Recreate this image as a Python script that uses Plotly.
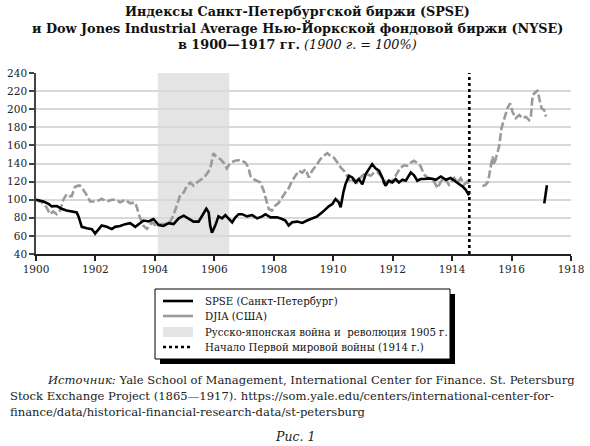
import plotly.graph_objects as go

# ---------------- data ----------------
spse_years = [1900.00, 1900.25, 1900.42, 1900.53, 1900.70, 1900.86, 1901.03, 1901.20, 1901.37, 1901.43,
              1901.54, 1901.71, 1901.88, 1901.99, 1902.10, 1902.21, 1902.38, 1902.55, 1902.66, 1902.83,
              1903.00, 1903.17, 1903.34, 1903.51, 1903.62, 1903.79, 1903.95, 1904.05, 1904.12, 1904.29,
              1904.46, 1904.63, 1904.80, 1904.97, 1905.13, 1905.30, 1905.47, 1905.58, 1905.73, 1905.81,
              1905.86, 1905.92, 1906.03, 1906.14, 1906.26, 1906.37, 1906.48, 1906.60, 1906.71, 1906.82,
              1906.93, 1907.10, 1907.27, 1907.44, 1907.61, 1907.72, 1907.89, 1908.11, 1908.28, 1908.39,
              1908.50, 1908.62, 1908.79, 1908.96, 1909.12, 1909.29, 1909.46, 1909.63, 1909.74, 1909.85,
              1909.97, 1910.08, 1910.19, 1910.25, 1910.34, 1910.41, 1910.53, 1910.64, 1910.75, 1910.86,
              1910.98, 1911.09, 1911.20, 1911.31, 1911.43, 1911.54, 1911.65, 1911.76, 1911.87, 1911.99,
              1912.10, 1912.21, 1912.33, 1912.44, 1912.61, 1912.72, 1912.83, 1912.94, 1913.05, 1913.22,
              1913.34, 1913.45, 1913.62, 1913.79, 1913.95, 1914.12, 1914.23, 1914.35, 1914.46, 1914.52,
              1914.57, None, 1917.10, 1917.19]
spse_values = [100, 98, 95.5, 92.6, 93, 90, 88, 87, 86, 81.5,
               70, 68.5, 67.5, 62.5, 67, 71.5, 70, 67.5, 70, 71,
               73, 74, 70, 74, 77, 76, 78.5, 75, 72, 71,
               74, 73, 79.4, 82.4, 79.4, 75.8, 75.8, 81.6, 90, 86,
               71.4, 63.5, 71.4, 81.6, 79.4, 83, 79.4, 75, 80.5, 84,
               84, 81.6, 83, 79.4, 81.6, 84, 80.5, 80.5, 78.7, 77,
               71.4, 75, 75.8, 74.3, 77, 79.4, 81.6, 86, 89.7, 92.6,
               95.2, 100.7, 97, 91.5, 108, 117, 126.4, 124.6, 119, 122.8,
               117, 128, 133.8, 139.3, 134.5, 132, 124.6, 115.4, 121, 119,
               122.8, 119, 122, 121, 130, 127, 121, 122.8, 122.8, 123.5,
               123, 122, 125.7, 122, 124, 120, 116.5, 114.7, 111, 107.3,
               104.8, None, 96, 116]

djia_years = [1900.00, 1900.19, 1900.35, 1900.47, 1900.58, 1900.70, 1900.81, 1900.92, 1901.03, 1901.12,
              1901.20, 1901.31, 1901.42, 1901.48, 1901.59, 1901.73, 1901.82, 1901.99, 1902.10, 1902.21,
              1902.38, 1902.55, 1902.72, 1902.83, 1903.00, 1903.17, 1903.34, 1903.39, 1903.50, 1903.62,
              1903.73, 1903.90, 1904.01, 1904.12, 1904.29, 1904.46, 1904.57, 1904.68, 1904.86, 1904.97,
              1905.08, 1905.19, 1905.30, 1905.41, 1905.58, 1905.70, 1905.86, 1905.97, 1906.08, 1906.20,
              1906.31, 1906.42, 1906.54, 1906.70, 1906.87, 1907.04, 1907.15, 1907.21, 1907.32, 1907.44,
              1907.55, 1907.66, 1907.75, 1907.83, 1907.94, 1908.05, 1908.16, 1908.28, 1908.39, 1908.50,
              1908.62, 1908.73, 1908.84, 1908.96, 1909.07, 1909.18, 1909.29, 1909.46, 1909.57, 1909.68,
              1909.80, 1909.91, 1910.02, 1910.14, 1910.25, 1910.36, 1910.47, 1910.58, 1910.70, 1910.81,
              1910.92, 1911.03, 1911.14, 1911.26, 1911.37, 1911.48, 1911.60, 1911.71, 1911.82, 1911.93,
              1912.04, 1912.16, 1912.27, 1912.38, 1912.49, 1912.61, 1912.72, 1912.83, 1912.94, 1913.05,
              1913.17, 1913.28, 1913.39, 1913.51, 1913.62, 1913.73, 1913.90, 1914.07, 1914.18, 1914.29,
              1914.40, 1914.51, 1914.57, None,
              1915.02, 1915.13, 1915.21, 1915.28, 1915.36, 1915.41, 1915.47, 1915.58, 1915.66, 1915.75,
              1915.86, 1915.95, 1916.03, 1916.14, 1916.26, 1916.37, 1916.48, 1916.59, 1916.65, 1916.71,
              1916.82, 1916.88, 1916.93, 1917.01, 1917.10, 1917.16]
djia_values = [100, 97, 92, 84, 87, 84, 88, 100, 106, 104,
               104, 114, 115.5, 115.5, 111, 104, 98, 98, 99, 101,
               98, 100, 100, 97, 100, 96, 97, 91, 80, 71,
               67.7, 75, 72, 73, 73, 73, 79, 88, 106, 108,
               115.4, 119, 115.4, 119, 122.8, 126.4, 133.8, 151.4, 146.6, 144.8,
               141, 134.5, 141, 143, 144, 141, 135.6, 126.4, 122.8, 121,
               119, 110, 99, 89.7, 88, 93.4, 96.3, 102.6, 108, 112.5,
               121, 126.4, 132, 130, 133.8, 124.6, 132, 139.3, 144.8, 148.4,
               151.4, 148.4, 146.6, 141, 135.6, 132, 126.4, 119, 122.8, 119,
               124.6, 128, 128, 126.4, 130, 130.8, 126.4, 117.2, 122.8, 119,
               122.8, 130, 135.6, 138, 137.3, 141, 143, 140.4, 137.3, 128,
               124.6, 122.8, 120, 112.8, 120, 124, 116.5, 124, 119.4, 123.9,
               116.5, 120, 116, None,
               114.7, 116.5, 120, 133, 147.7, 138.5, 145.9, 158.7, 178.9, 190,
               201, 206.4, 197.2, 190, 193.6, 190, 191.7, 188, 191.7, 215.6,
               219.3, 221, 212, 201, 199, 191.7]

war_period = [1904.1, 1906.5]     # Russo-Japanese war & revolution 1905
ww1_start = 1914.58               # start of WWI

series_names = ["SPSE (Санкт-Петербург)", "DJIA (США)",
                "Русско-японская война и  революция 1905 г.",
                "Начало Первой мировой войны (1914 г.)"]
x_ticks = [1900, 1902, 1904, 1906, 1908, 1910, 1912, 1914, 1916, 1918]
y_ticks = [40, 60, 80, 100, 120, 140, 160, 180, 200, 220, 240]

# ---------------- layout geometry ----------------
W, H = 590, 446
L, R, T, B = 36, 571, 73, 254
SERIF = "DejaVu Serif"


def px(x):
    return (x - L) / (R - L)


def py(y):
    return (B - y) / (B - T)


fig = go.Figure()
fig.add_trace(go.Scatter(x=djia_years, y=djia_values, mode="lines", name=series_names[1],
                         line=dict(color="#9a9a9a", width=2.6, dash="8px,3px"),
                         connectgaps=False, showlegend=False))
fig.add_trace(go.Scatter(x=spse_years, y=spse_values, mode="lines", name=series_names[0],
                         line=dict(color="#000000", width=2.6),
                         connectgaps=False, showlegend=False))

shapes = [
    dict(type="rect", xref="x", yref="paper", x0=war_period[0], x1=war_period[1], y0=0, y1=1,
         fillcolor="#e4e4e4", line=dict(width=0), layer="between"),
    dict(type="line", xref="x", yref="paper", x0=ww1_start, x1=ww1_start, y0=0, y1=1,
         line=dict(color="#000000", width=2.6, dash="dot"), layer="above"),
]

# legend box with shadow
lx0, lx1, ly0, ly1 = 155, 450, 289, 359
shapes.append(dict(type="rect", xref="paper", yref="paper", x0=px(lx0 + 5), x1=px(lx1 + 5),
                   y0=py(ly1 + 5), y1=py(ly0 + 5), fillcolor="#000000", line=dict(width=0)))
shapes.append(dict(type="rect", xref="paper", yref="paper", x0=px(lx0), x1=px(lx1),
                   y0=py(ly1), y1=py(ly0), fillcolor="#ffffff", line=dict(color="#000000", width=1)))
rows = [301, 316, 332, 347]
shapes.append(dict(type="line", xref="paper", yref="paper", x0=px(163), x1=px(193),
                   y0=py(rows[0]), y1=py(rows[0]), line=dict(color="#000000", width=2.6)))
shapes.append(dict(type="line", xref="paper", yref="paper", x0=px(163), x1=px(193),
                   y0=py(rows[1]), y1=py(rows[1]), line=dict(color="#9a9a9a", width=2.6)))
shapes.append(dict(type="rect", xref="paper", yref="paper", x0=px(163), x1=px(193),
                   y0=py(rows[2] + 5), y1=py(rows[2] - 5), fillcolor="#e4e4e4", line=dict(width=0)))
shapes.append(dict(type="line", xref="paper", yref="paper", x0=px(163), x1=px(193),
                   y0=py(rows[3]), y1=py(rows[3]), line=dict(color="#000000", width=2.6, dash="dot")))

annotations = []
for r, name in zip(rows, series_names):
    annotations.append(dict(xref="paper", yref="paper", x=px(203), y=py(r), xanchor="left",
                            yanchor="middle", text=name, showarrow=False,
                            font=dict(family=SERIF, size=10.2, color="#111")))

# title
title_lines = ["<b>Индексы Санкт-Петербургской биржи (SPSE)</b>",
               "<b>и Dow Jones Industrial Average Нью-Йоркской фондовой биржи (NYSE)</b>",
               "<b>в 1900—1917 гг.</b> <i>(1900 г. = 100%)</i>"]
for yy, t in zip([11, 28, 45], title_lines):
    annotations.append(dict(xref="paper", yref="paper", x=px(297), y=py(yy), xanchor="center",
                            yanchor="middle", text=t, showarrow=False,
                            font=dict(family=SERIF, size=12.8, color="#111")))

# source
src = [(45, 380, "<i>Источник:</i> Yale School of Management, International Center for Finance. St. Petersburg"),
       (8, 396, "Stock Exchange Project (1865—1917). https://som.yale.edu/centers/international-center-for-"),
       (8, 412, "finance/data/historical-financial-research-data/st-petersburg")]
for xx, yy, t in src:
    annotations.append(dict(xref="paper", yref="paper", x=px(xx), y=py(yy), xanchor="left",
                            yanchor="middle", text=t, showarrow=False,
                            font=dict(family=SERIF, size=11.6, color="#222")))
annotations.append(dict(xref="paper", yref="paper", x=px(295), y=py(437), xanchor="center",
                        yanchor="middle", text="<i>Рис. 1</i>", showarrow=False,
                        font=dict(family=SERIF, size=12.5, color="#222")))

fig.update_layout(
    width=W, height=H,
    margin=dict(l=L, r=W - R, t=T, b=H - B, pad=0),
    paper_bgcolor="#ffffff", plot_bgcolor="#ffffff",
    showlegend=False,
    shapes=shapes, annotations=annotations,
    xaxis=dict(range=[1900, 1918], tickmode="array", tickvals=x_ticks, automargin=False,
               ticktext=[str(v) for v in x_ticks], showgrid=False, zeroline=False,
               showline=True, linecolor="#222", linewidth=1.5, ticks="outside", ticklen=5,
               tickcolor="#222", tickwidth=1.5, tickfont=dict(family=SERIF, size=10.5, color="#222")),
    yaxis=dict(range=[40, 240], tickmode="array", tickvals=y_ticks, showgrid=True, automargin=False,
               gridcolor="#d9d9d9", gridwidth=1.5, zeroline=False, showline=True,
               linecolor="#444", linewidth=1.5, ticks="outside", ticklen=5, tickcolor="#444",
               tickwidth=1.5, tickfont=dict(family=SERIF, size=10.5, color="#222")),
)

fig.write_html("out.html")
